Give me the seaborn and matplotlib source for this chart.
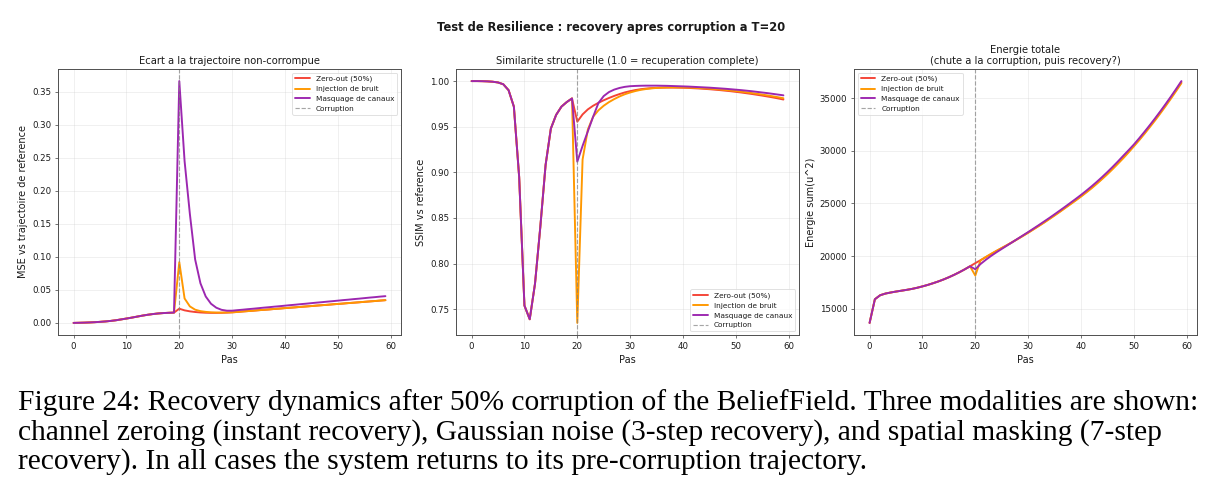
import matplotlib
matplotlib.use("Agg")
import matplotlib.pyplot as plt
import seaborn as sns

# Donnees (pas 0..59, corruption a T=20)
steps = list(range(60))
t_corruption = 20

# MSE vs trajectoire de reference
mse_pre = [0.0000, 0.0002, 0.0004, 0.0007, 0.0011, 0.0016, 0.0022, 0.0030, 0.0040, 0.0053,
           0.0066, 0.0080, 0.0095, 0.0110, 0.0123, 0.0134, 0.0143, 0.0149, 0.0153, 0.0156]
mse_tail = [0.0160, 0.0166, 0.0173, 0.0179, 0.0185, 0.0192, 0.0198, 0.0204, 0.0211, 0.0217,
            0.0224, 0.0230, 0.0236, 0.0243, 0.0249, 0.0255, 0.0262, 0.0268, 0.0274, 0.0281,
            0.0287, 0.0293, 0.0300, 0.0306, 0.0312, 0.0319, 0.0325, 0.0331, 0.0338, 0.0344]
mse_zero = mse_pre + [0.0215, 0.0190, 0.0175, 0.0165, 0.0158, 0.0154, 0.0152, 0.0152, 0.0153, 0.0156] + mse_tail
mse_noise = mse_pre + [0.0920, 0.0370, 0.0250, 0.0200, 0.0178, 0.0167, 0.0160, 0.0157, 0.0156, 0.0158] + mse_tail
mse_mask = mse_pre + [0.3660, 0.2450, 0.1650, 0.0960, 0.0600, 0.0400, 0.0290, 0.0230, 0.0198, 0.0185,
                      0.0185, 0.0193, 0.0200, 0.0208, 0.0215, 0.0223, 0.0231, 0.0238, 0.0246, 0.0253,
                      0.0261, 0.0269, 0.0276, 0.0284, 0.0291, 0.0299, 0.0307, 0.0314, 0.0322, 0.0329,
                      0.0337, 0.0345, 0.0352, 0.0360, 0.0367, 0.0375, 0.0383, 0.0390, 0.0398, 0.0405]

# SSIM vs reference
ssim_pre = [1.0000, 1.0000, 0.9999, 0.9997, 0.9993, 0.9985, 0.9965, 0.9900, 0.9720, 0.8950,
            0.7540, 0.7390, 0.7780, 0.8400, 0.9080, 0.9480, 0.9630, 0.9720, 0.9770, 0.9810]
ssim_zero = ssim_pre + [0.9555, 0.9635, 0.9690, 0.9730, 0.9762, 0.9790, 0.9815, 0.9838, 0.9858, 0.9876,
                        0.9890, 0.9902, 0.9911, 0.9918, 0.9923, 0.9926, 0.9928, 0.9929, 0.9929, 0.9928,
                        0.9927, 0.9925, 0.9922, 0.9919, 0.9915, 0.9911, 0.9906, 0.9901, 0.9895, 0.9889,
                        0.9882, 0.9875, 0.9867, 0.9859, 0.9850, 0.9841, 0.9831, 0.9821, 0.9810, 0.9798]
ssim_noise = ssim_pre + [0.7350, 0.9140, 0.9470, 0.9610, 0.9680, 0.9730, 0.9770, 0.9803, 0.9832, 0.9856,
                         0.9875, 0.9891, 0.9904, 0.9913, 0.9920, 0.9925, 0.9928, 0.9930, 0.9931, 0.9931,
                         0.9930, 0.9929, 0.9927, 0.9924, 0.9921, 0.9917, 0.9913, 0.9908, 0.9903, 0.9897,
                         0.9891, 0.9884, 0.9877, 0.9869, 0.9861, 0.9852, 0.9843, 0.9833, 0.9823, 0.9812]
ssim_mask = ssim_pre + [0.9117, 0.9290, 0.9450, 0.9610, 0.9760, 0.9836, 0.9880, 0.9907, 0.9925, 0.9937,
                        0.9944, 0.9947, 0.9949, 0.9950, 0.9950, 0.9950, 0.9949, 0.9948, 0.9946, 0.9944,
                        0.9942, 0.9940, 0.9937, 0.9934, 0.9931, 0.9928, 0.9924, 0.9920, 0.9916, 0.9911,
                        0.9906, 0.9901, 0.9895, 0.9889, 0.9882, 0.9875, 0.9868, 0.9860, 0.9852, 0.9844]

# Energie sum(u^2)
energy_pre = [13650, 15900, 16280, 16440, 16540, 16630, 16710, 16790, 16880, 16990,
              17120, 17260, 17420, 17590, 17780, 17990, 18220, 18470, 18740, 19030]
energy_zero = energy_pre + [19330, 19610, 19900, 20190, 20480, 20760, 21040, 21330, 21630, 21930,
                            22240, 22560, 22880, 23210, 23550, 23900, 24250, 24610, 24970, 25340,
                            25710, 26100, 26510, 26940, 27390, 27860, 28350, 28860, 29390, 29940,
                            30510, 31100, 31710, 32340, 32990, 33660, 34350, 35060, 35790, 36540]
energy_noise = energy_pre + [18150, 19600, 19920, 20220, 20500, 20770, 21040, 21320, 21610, 21910,
                             22210, 22530, 22850, 23170, 23510, 23850, 24200, 24560, 24920, 25280,
                             25650, 26040, 26440, 26870, 27320, 27780, 28270, 28780, 29300, 29850,
                             30420, 31000, 31610, 32240, 32880, 33550, 34240, 34950, 35680, 36430]
energy_mask = energy_pre + [18750, 19250, 19650, 20020, 20360, 20680, 21000, 21320, 21640, 21960,
                            22280, 22610, 22940, 23280, 23620, 23970, 24330, 24690, 25060, 25430,
                            25810, 26210, 26625, 27060, 27515, 27990, 28485, 29000, 29535, 30060,
                            30600, 31190, 31800, 32430, 33080, 33750, 34440, 35150, 35880, 36630]

labels = ["Zero-out (50%)", "Injection de bruit", "Masquage de canaux"]
colors = ["#f44336", "#ff9800", "#9c27b0"]

caption_lines = [
    "Figure 24: Recovery dynamics after 50% corruption of the BeliefField. Three modalities are shown:",
    "channel zeroing (instant recovery), Gaussian noise (3-step recovery), and spatial masking (7-step",
    "recovery). In all cases the system returns to its pre-corruption trajectory.",
]

# Style
sns.set_theme(style="ticks", rc={
    "axes.edgecolor": "0.3",
    "axes.linewidth": 1.0,
    "xtick.color": "0.3",
    "ytick.color": "0.3",
    "xtick.labelcolor": "0.1",
    "ytick.labelcolor": "0.1",
    "axes.labelcolor": "0.1",
    "text.color": "0.1",
})
plt.rcParams["font.family"] = ["DejaVu Sans"]

W, H = 1223, 501
fig = plt.figure(figsize=(W / 69, H / 69), dpi=69)

panels = [
    (58, [mse_zero, mse_noise, mse_mask], "Ecart a la trajectoire non-corrompue",
     "MSE vs trajectoire de reference", "upper right"),
    (456, [ssim_zero, ssim_noise, ssim_mask], "Similarite structurelle (1.0 = recuperation complete)",
     "SSIM vs reference", "lower right"),
    (854, [energy_zero, energy_noise, energy_mask], "Energie totale\n(chute a la corruption, puis recovery?)",
     "Energie sum(u^2)", "upper left"),
]

for left, series, title, ylabel, loc in panels:
    ax = fig.add_axes([left / W, 1 - 335 / H, 343 / W, 266 / H])
    for vals, lab, col in zip(series, labels, colors):
        sns.lineplot(x=steps, y=vals, color=col, label=lab, linewidth=2, ax=ax)
    ax.axvline(t_corruption, color="gray", linestyle="--", linewidth=1.2, alpha=0.7, label="Corruption")
    ax.grid(True, alpha=0.3)
    ax.set_title(title, fontsize=10.4, pad=5)
    ax.set_xlabel("Pas", fontsize=10.2)
    ax.set_ylabel(ylabel, fontsize=10.2)
    ax.tick_params(labelsize=9, length=3.5, width=0.8)
    ax.set_xticks([0, 10, 20, 30, 40, 50, 60])
    ax.legend(loc=loc, fontsize=7.7, frameon=True, framealpha=0.8, edgecolor="0.85", fancybox=True)

fig.suptitle("Test de Resilience : recovery apres corruption a T=20",
             fontsize=12, fontweight="bold", y=1 - 21 / H)

# Legende de la figure (texte du papier)
for i, line in enumerate(caption_lines):
    fig.text(18 / W, 1 - (410 + 29.5 * i) / H, line, fontsize=30.8,
             family=["Liberation Serif", "DejaVu Serif"], va="baseline", ha="left", color="black")

fig.savefig("out.png", dpi=69)
